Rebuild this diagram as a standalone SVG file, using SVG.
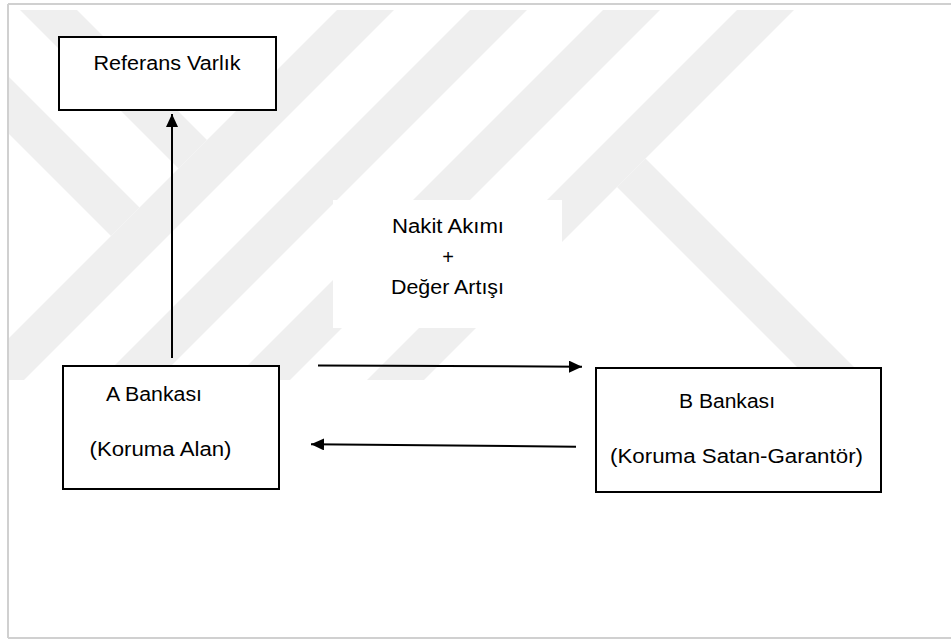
<svg xmlns="http://www.w3.org/2000/svg" width="951" height="639" viewBox="0 0 951 639">
  <style>
    .box { fill: #ffffff; stroke: #000000; stroke-width: 2; }
    .lbl { font-family: "Liberation Sans", Arial, sans-serif; font-size: 20px; fill: #000000; }
    .conn { stroke: #000000; stroke-width: 2; fill: none; }
    .wm { fill: #efefef; }
    .frame { stroke: #d0d0d0; stroke-width: 2; fill: none; }
  </style>
  <defs>
    <marker id="arrow" markerUnits="userSpaceOnUse" markerWidth="13" markerHeight="12" refX="13" refY="6" orient="auto">
      <path d="M0,0 L13,6 L0,12 z" fill="#000000"/>
    </marker>
    <clipPath id="wmclip">
      <rect x="9" y="10" width="942" height="370"/>
    </clipPath>
  </defs>

  <rect x="0" y="0" width="951" height="639" fill="#ffffff"/>

  <g id="watermark" clip-path="url(#wmclip)">
    <polygon class="wm" points="347,0 404,0 4,400 -53,400"/>
    <polygon class="wm" points="480,0 537,0 137,400 80,400"/>
    <polygon class="wm" points="613,0 670,0 270,400 213,400"/>
    <polygon class="wm" points="747,0 804,0 404,400 347,400"/>
    <polygon class="wm" points="10,0 67,0 207,140 178.5,168.5"/>
    <polygon class="wm" points="-50,18 139.5,207.5 111,236 -50,75"/>
    <polygon class="wm" points="645.5,158.5 887,400 830,400 617,187"/>
  </g>

  <g id="frame">
    <line class="frame" x1="8" y1="4" x2="951" y2="4"/>
    <line class="frame" x1="8" y1="4" x2="8" y2="638"/>
    <line class="frame" x1="8" y1="638" x2="951" y2="638"/>
  </g>

  <g id="flow-label">
    <rect x="333" y="200" width="229" height="128" fill="#ffffff"/>
    <text class="lbl" x="448" y="233" text-anchor="middle" textLength="112" lengthAdjust="spacingAndGlyphs">Nakit Akımı</text>
    <text class="lbl" x="448" y="264" text-anchor="middle">+</text>
    <text class="lbl" x="447.5" y="294" text-anchor="middle" textLength="113" lengthAdjust="spacingAndGlyphs">Değer Artışı</text>
  </g>

  <g id="connectors">
    <line class="conn" x1="172" y1="358" x2="172" y2="114" marker-end="url(#arrow)"/>
    <line class="conn" x1="318" y1="365.5" x2="582" y2="366.7" marker-end="url(#arrow)"/>
    <line class="conn" x1="576" y1="446.7" x2="311" y2="444.3" marker-end="url(#arrow)"/>
  </g>

  <g id="node-referans">
    <rect class="box" x="59" y="37" width="217" height="73"/>
    <text class="lbl" x="167" y="70" text-anchor="middle" textLength="147" lengthAdjust="spacingAndGlyphs">Referans Varlık</text>
  </g>

  <g id="node-a-bankasi">
    <rect class="box" x="63" y="366" width="216" height="123"/>
    <text class="lbl" x="154" y="401" text-anchor="middle" textLength="96" lengthAdjust="spacingAndGlyphs">A Bankası</text>
    <text class="lbl" x="160.5" y="456" text-anchor="middle" textLength="142" lengthAdjust="spacingAndGlyphs">(Koruma Alan)</text>
  </g>

  <g id="node-b-bankasi">
    <rect class="box" x="596" y="368" width="285" height="124"/>
    <text class="lbl" x="727" y="408" text-anchor="middle" textLength="96" lengthAdjust="spacingAndGlyphs">B Bankası</text>
    <text class="lbl" x="736.5" y="463" text-anchor="middle" textLength="253" lengthAdjust="spacingAndGlyphs">(Koruma Satan-Garantör)</text>
  </g>
</svg>
